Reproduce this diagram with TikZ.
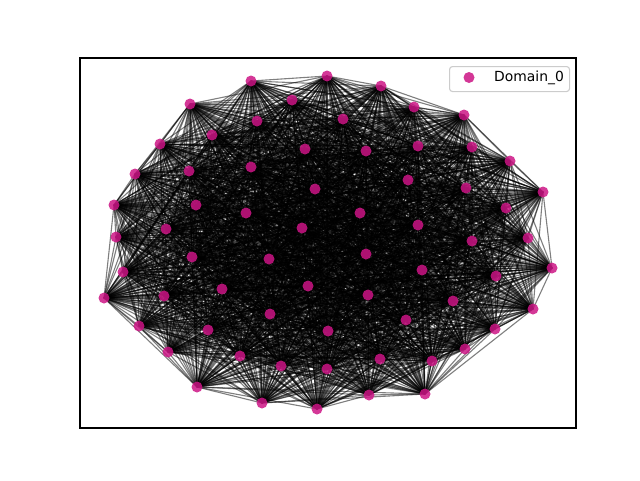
\documentclass[tikz,border=0pt]{standalone}
\usepackage{fontspec}
\setmainfont{DejaVu Sans}
\definecolor{dotc}{RGB}{204,21,133}
\tikzset{
  edge/.style={draw=black, line width=1.1pt, opacity=0.5},
  dot/.style={circle, fill=dotc, fill opacity=0.85, draw=none, minimum size=11pt, inner sep=0pt},
  frame/.style={draw=black, line width=1.1pt},
  legendbox/.style={draw=black!20, fill=white, fill opacity=0.8, rounded corners=3pt, line width=1.1pt}
}
\begin{document}
\begin{tikzpicture}[x=1pt, y=-1pt]
\useasboundingbox (0,0) rectangle (640,480);
\foreach \i/\x/\y in {1/251/81,2/327/76,3/292/100,4/190/104,5/257/121,6/212/135,7/160/144,8/305/149,9/135/174,10/189/171,11/251/167,12/315/189,13/114/205,14/196/205,15/246/213,16/302/228,17/116/237,18/166/229,19/381/86,20/414/107,21/464/115,22/343/119,23/366/151,24/418/146,25/472/147,26/510/161,27/543/192,28/408/180,29/466/188,30/506/208,31/360/213,32/418/225,33/472/241,34/528/238,35/192/257,36/269/259,37/123/272,38/104/298,39/164/296,40/222/289,41/308/286,42/270/314,43/139/326,44/208/330,45/168/352,46/240/356,47/281/366,48/197/387,49/262/403,50/317/409,51/328/331,52/327/369,53/366/254,54/422/270,55/552/268,56/496/276,57/368/295,58/453/301,59/533/309,60/406/320,61/495/329,62/465/349,63/380/359,64/432/361,65/369/395,66/425/394}
  \coordinate (p\i) at (\x,\y);
\pgfmathsetseed{12345}
\foreach \i in {1,...,65} {
  \pgfmathtruncatemacro\s{\i+1}
  \foreach \j in {\s,...,66} {
    \pgfmathrandominteger{\r}{0}{99}
    \ifnum\r<96 \draw[edge] (p\i) -- (p\j); \fi
  }
}
\foreach \i in {1,...,66} \node[dot] (n\i) at (p\i) {};
\draw[frame] (80,58) rectangle (576,428);
\node[legendbox, minimum width=120pt, minimum height=25pt, anchor=north west] (leg) at (449,66) {};
\node[dot] (legdot) at (469,77.5) {};
\node[anchor=west, font=\fontsize{13.9}{16}\selectfont, inner sep=0pt] (legtxt) at (494,77.5) {Domain\_0};
\end{tikzpicture}
\end{document}
